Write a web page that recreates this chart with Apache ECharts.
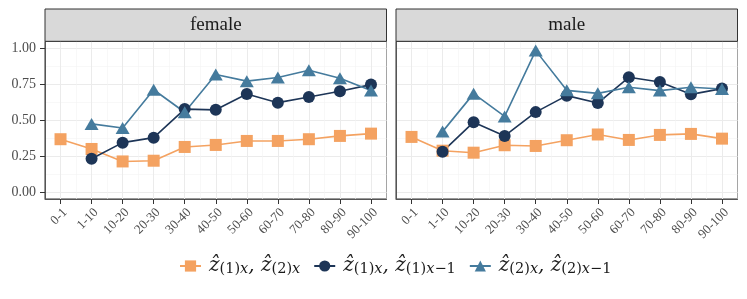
<!DOCTYPE html>
<html><head><meta charset="utf-8">
<script src="https://cdn.jsdelivr.net/npm/echarts@6/dist/echarts.min.js"></script>
<style>html,body{margin:0;padding:0;background:#fff}#c{width:747px;height:299px}</style>
</head><body><div id="c"></div>
<script>
const categories = ['0-1','1-10','10-20','20-30','30-40','40-50','50-60','60-70','70-80','80-90','90-100'];
const panels = ['female','male'];
const yTicks = [0, 0.25, 0.5, 0.75, 1];
const yMinorTicks = [0.125, 0.375, 0.625, 0.875];
const xMajorTicks = [0,1,2,3,4,5,6,7,8,9,10];
// female
const femaleZ1xZ2x = [0.367,0.299,0.212,0.217,0.313,0.327,0.355,0.355,0.367,0.390,0.406];
const femaleZ1xZ1x1 = [null,0.231,0.343,0.378,0.577,0.572,0.682,0.622,0.661,0.701,0.748];
const femaleZ2xZ2x1 = [null,0.474,0.445,0.712,0.555,0.818,0.772,0.797,0.848,0.792,0.707];
// male
const maleZ1xZ2x = [0.383,0.287,0.273,0.325,0.320,0.360,0.400,0.362,0.397,0.404,0.371];
const maleZ1xZ1x1 = [null,0.280,0.486,0.390,0.556,0.671,0.619,0.799,0.766,0.680,0.720];
const maleZ2xZ2x1 = [null,0.420,0.685,0.526,0.985,0.708,0.687,0.730,0.706,0.730,0.717];
const seriesNames = ['z1x_z2x','z1x_z1x1','z2x_z2x1'];
const seriesColors = ['#F4A261','#1D3557','#457B9D'];

const SERIF = "'Liberation Serif','DejaVu Serif',serif";
const LSERIF = "'DejaVu Serif',serif";
const grids = [
  {left:45, top:41.3, width:341.5, height:157.7},
  {left:396, top:41.3, width:341.5, height:157.7}
];
const panelData = [
  [femaleZ1xZ2x, femaleZ1xZ1x1, femaleZ2xZ2x1],
  [maleZ1xZ2x, maleZ1xZ1x1, maleZ2xZ2x1]
];
const symbols = ['rect','circle','triangle'];
const symbolSizes = [12, 12, [14,12]];

const xAxes = [], yAxes = [], series = [], graphics = [];
grids.forEach((g, gi) => {
  xAxes.push({type:'category', gridIndex:gi, data:categories, boundaryGap:true,
    axisLine:{show:true, onZero:false, lineStyle:{color:'#555', width:1}},
    axisTick:{show:true, alignWithLabel:true, interval:0, length:5, lineStyle:{color:'#333', width:1}},
    axisLabel:{rotate:45, interval:0, fontFamily:SERIF, fontSize:13, color:'#4d4d4d', margin:7, align:'right', verticalAlign:'top'},
    splitLine:{show:true, interval:0, lineStyle:{color:'#f3f3f3', width:0.6}}});
  xAxes.push({type:'value', gridIndex:gi, min:-0.5, max:10.5,
    axisLine:{show:false, onZero:false}, axisTick:{show:false, customValues:xMajorTicks}, axisLabel:{show:false},
    splitLine:{show:true, lineStyle:{color:'#ebebeb', width:1}}});
  yAxes.push({type:'value', gridIndex:gi, min:-0.05, max:1.05,
    axisLine:{show:true, onZero:false, lineStyle:{color:'#555', width:1}},
    axisTick:{show:gi===0, customValues:yTicks, length:5, lineStyle:{color:'#333'}},
    axisLabel:{show:gi===0, customValues:yTicks, formatter:v=>v.toFixed(2), fontFamily:SERIF, fontSize:14, color:'#4d4d4d', margin:9},
    splitLine:{show:true, lineStyle:{color:'#ebebeb', width:1}}});
  yAxes.push({type:'value', gridIndex:gi, min:-0.05, max:1.05,
    axisLine:{show:false, onZero:false}, axisTick:{show:false, customValues:yMinorTicks}, axisLabel:{show:false},
    splitLine:{show:true, lineStyle:{color:'#f3f3f3', width:0.6}}});
  panelData[gi].forEach((d, si) => {
    series.push({type:'line', name:seriesNames[si], xAxisIndex:gi*2, yAxisIndex:gi*2, data:d,
      symbol:symbols[si], symbolSize:symbolSizes[si], showSymbol:true, connectNulls:false,
      itemStyle:{color:seriesColors[si], opacity:1}, lineStyle:{color:seriesColors[si], width:1.6},
      emphasis:{disabled:true}, animation:false});
  });
  graphics.push({type:'rect', shape:{x:g.left, y:9, width:g.width, height:32.3},
    style:{fill:'#d9d9d9', stroke:'#333', lineWidth:1}, z:10});
  graphics.push({type:'text', x:g.left+g.width/2, y:25.5, z:11,
    style:{text:panels[gi], fill:'#1a1a1a', font:"19px 'Liberation Serif','DejaVu Serif',serif", textAlign:'center', textVerticalAlign:'middle'}});
});

const legendLabels = {
  z1x_z2x: '{p|}{m|ẑ}{s|(1)}{si|x}{m|, ẑ}{s|(2)}{si|x}',
  z1x_z1x1: '{p|}{m|ẑ}{s|(1)}{si|x}{m|, ẑ}{s|(1)}{si|x}{s|−1}',
  z2x_z2x1: '{p|}{m|ẑ}{s|(2)}{si|x}{m|, ẑ}{s|(2)}{si|x}{s|−1}'
};

const chart = echarts.init(document.getElementById('c'), null, {renderer:'canvas'});
chart.setOption({
  animation:false,
  backgroundColor:'#fff',
  grid: grids.map(g => Object.assign({show:true, borderColor:'#333', borderWidth:1, backgroundColor:'transparent', containLabel:false}, g)),
  xAxis: xAxes,
  yAxis: yAxes,
  legend: {data:seriesNames, left:179, top:256, padding:0, itemWidth:21, itemHeight:14, itemGap:13, selectedMode:false,
    formatter: n => legendLabels[n],
    textStyle:{fontFamily:LSERIF, fontSize:20, color:'#1a1a1a', rich:{
      p:{width:3, lineHeight:22},
      m:{fontFamily:LSERIF, fontStyle:'italic', fontSize:20, lineHeight:22, color:'#1a1a1a'},
      s:{fontFamily:LSERIF, fontSize:14.5, lineHeight:10, verticalAlign:'bottom', color:'#1a1a1a'},
      si:{fontFamily:LSERIF, fontStyle:'italic', fontSize:14.5, lineHeight:10, verticalAlign:'bottom', color:'#1a1a1a'}
    }}},
  graphic: graphics,
  series: series
});
</script></body></html>
